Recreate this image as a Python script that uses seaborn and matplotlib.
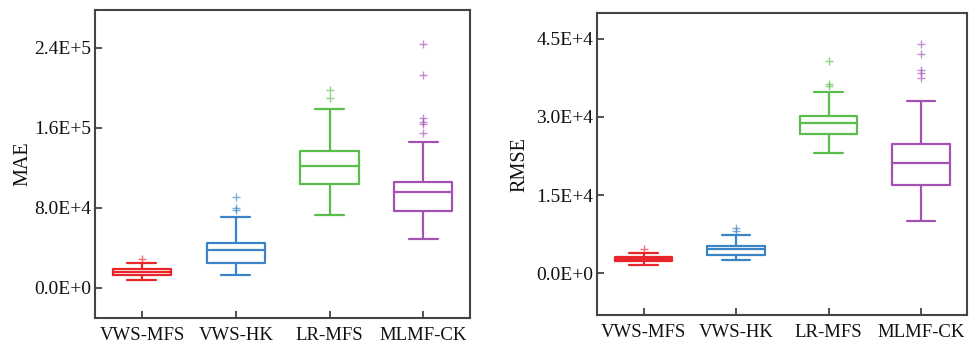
import numpy as np
import pandas as pd
import matplotlib
matplotlib.use("Agg")
import matplotlib.pyplot as plt
import seaborn as sns

categories = ["VWS-MFS", "VWS-HK", "LR-MFS", "MLMF-CK"]
colors = ["#e8252b", "#3b84c6", "#5bbd4c", "#a352b3"]

# MAE box summaries (lower whisker, Q1, median, Q3, upper whisker)
mae_lo = [7700, 13000, 72700, 49000]
mae_q1 = [12700, 25000, 104000, 76700]
mae_med = [15700, 37700, 122300, 95700]
mae_q3 = [18700, 45000, 137000, 106000]
mae_hi = [24700, 71000, 178700, 146300]
mae_out = [[29000], [77800, 80000, 91000], [190300, 198300],
           [154700, 164000, 166000, 170000, 212700, 244300]]

# RMSE box summaries
rmse_lo = [1600, 2620, 23100, 10100]
rmse_q1 = [2370, 3580, 26800, 16900]
rmse_med = [2750, 4610, 28860, 21250]
rmse_q3 = [3140, 5310, 30270, 24770]
rmse_hi = [3970, 7420, 34880, 33020]
rmse_out = [[4670], [8130, 8770], [36030, 36350, 40830],
            [37570, 38400, 38980, 42110, 44030]]

mae_ticks = [0, 80000, 160000, 240000]
mae_ticklabels = ["0.0E+0", "8.0E+4", "1.6E+5", "2.4E+5"]
rmse_ticks = [0, 15000, 30000, 45000]
rmse_ticklabels = ["0.0E+0", "1.5E+4", "3.0E+4", "4.5E+4"]


def build(lo, q1, med, q3, hi, out):
    rows = []
    for c, l, a1, m, a3, h, o in zip(categories, lo, q1, med, q3, hi, out):
        k = len(o)
        a = k + 3
        vals = [l] * (k + 1) + [a1] * a + [m] + [a3] * a + [h] + list(o)
        rows += [(c, v) for v in vals]
    return pd.DataFrame(rows, columns=["model", "value"])


df_mae = build(mae_lo, mae_q1, mae_med, mae_q3, mae_hi, mae_out)
df_rmse = build(rmse_lo, rmse_q1, rmse_med, rmse_q3, rmse_hi, rmse_out)

sns.set_theme(style="white")
plt.rcParams["font.family"] = ["Liberation Serif", "DejaVu Serif"]

fig = plt.figure(figsize=(9.76, 3.44), dpi=100)
W, H = 976, 344
ax1 = fig.add_axes([95 / W, 1 - 318.3 / H, 375.3 / W, 308.3 / H])
ax2 = fig.add_axes([597.3 / W, 1 - 315.3 / H, 370 / W, 302 / H])

pal = dict(zip(categories, colors))

for ax, df, lim, ticks, labels, ylab, lp in [
    (ax1, df_mae, (-30300, 278000), mae_ticks, mae_ticklabels, "MAE", 1),
    (ax2, df_rmse, (-8060, 49900), rmse_ticks, rmse_ticklabels, "RMSE", 5),
]:
    sns.boxplot(data=df, x="model", y="value", hue="model", palette=pal,
                order=categories, hue_order=categories, fill=False,
                width=0.62, linewidth=1.6, legend=False, ax=ax,
                flierprops={"marker": "+", "markersize": 6, "alpha": 0.65,
                            "markeredgewidth": 1.0})
    ax.set_xlim(-0.5, 3.5)
    ax.set_ylim(*lim)
    ax.set_yticks(ticks)
    ax.set_yticklabels(labels)
    ax.set_xlabel("")
    ax.set_ylabel(ylab, fontsize=14.5, labelpad=lp, color="#111111")
    ax.tick_params(axis="both", direction="in", length=5, width=1.2,
                   colors="#333333", labelcolor="#111111",
                   left=True, bottom=True, top=False, right=False)
    ax.tick_params(axis="y", labelsize=14, pad=3)
    ax.tick_params(axis="x", labelsize=13.5, pad=6)
    for s in ax.spines.values():
        s.set_visible(True)
        s.set_color("#444444")
        s.set_linewidth(1.5)

fig.savefig("out.png", dpi=100)
